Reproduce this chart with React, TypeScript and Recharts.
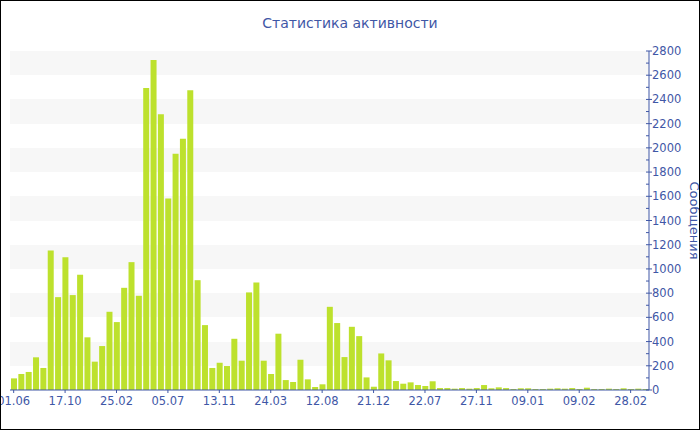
import { BarChart, Bar, XAxis, YAxis, CartesianGrid } from 'recharts';

const tickLabels = ['01.06', '17.10', '25.02', '05.07', '13.11', '24.03', '12.08', '21.12', '22.07', '27.11', '09.01', '09.02', '28.02'];

const messages = [
  96, 132, 149, 270, 182, 1152, 767, 1097, 784, 952, 435, 234, 363, 646, 561, 844, 1056, 778,
  2494, 2725, 2277, 1581, 1952, 2076, 2475, 907, 536, 182, 225, 198, 423, 242, 806, 888, 242,
  132, 465, 82, 66, 250, 88, 25, 47, 687, 553, 272, 522, 445, 104, 27, 302, 245, 74, 52, 63,
  41, 33, 72, 16, 16, 11, 16, 11, 16, 41, 14, 22, 16, 8, 14, 14, 8, 8, 11, 14, 11, 16, 8, 19,
  8, 8, 11, 8, 14, 8, 11, 8,
];

const majorTicks = [0, 200, 400, 600, 800, 1000, 1200, 1400, 1600, 1800, 2000, 2200, 2400, 2600, 2800];
const yTicks = majorTicks.flatMap((v, i) => (i === 0 ? [v] : [v - 100, v]));

const data = messages.map((v, i) => ({ i, v }));

const blue = '#3f57a6';
const font = 'DejaVu Sans, Verdana, sans-serif';

const YTick = (props: any) => {
  const { x, y, payload } = props;
  const ax = x - 8;
  const v = payload.value;
  const major = v % 200 === 0;
  return (
    <g>
      <line x1={ax - 3} x2={major ? ax + 3 : ax} y1={y} y2={y} stroke={blue} />
      {major && (
        <text x={ax + 3} y={y} dy={4} fill={blue} fontSize={11.5} fontFamily={font}>
          {v}
        </text>
      )}
    </g>
  );
};

export default function App() {
  return (
    <div style={{ position: 'relative', width: 700, height: 430, background: '#fff' }}>
      <style>{'body{margin:0}'}</style>
      <div
        style={{
          position: 'absolute', top: 15, left: 0, width: 700, textAlign: 'center',
          fontFamily: font, fontSize: 14, color: blue,
        }}
      >
        Статистика активности
      </div>
      <BarChart
        width={700}
        height={430}
        data={data}
        margin={{ top: 51, right: 0, bottom: 0, left: 10 }}
        barSize={6}
        style={{ position: 'absolute', top: 0, left: 0 }}
      >
        <CartesianGrid
          vertical={false}
          stroke="none"
          horizontalFill={['#f7f7f7', '#ffffff']}
          horizontalCoordinatesGenerator={({ offset }: any) =>
            majorTicks.map((v) => offset.top + offset.height * (1 - v / 2800))
          }
        />
        <XAxis
          dataKey="i"
          interval={6}
          tickFormatter={(i: number) => tickLabels[i / 7] ?? ''}
          height={40}
          tickSize={3}
          tickMargin={4}
          stroke={blue}
          tick={{ fill: blue, fontSize: 11.5, fontFamily: font }}
        />
        <YAxis
          orientation="right"
          width={51}
          domain={[0, 2800]}
          ticks={yTicks}
          interval={0}
          tickLine={false}
          tickSize={6}
          tickMargin={2}
          stroke={blue}
          tick={<YTick />}
          label={{ value: 'Сообщения', angle: 90, position: 'center', dx: 20, fill: blue, fontSize: 13, fontFamily: font }}
        />
        <Bar dataKey="v" fill="#bde12d" isAnimationActive={false} />
      </BarChart>
      <div style={{ position: 'absolute', inset: 0, border: '1px solid #000', pointerEvents: 'none' }} />
    </div>
  );
}
